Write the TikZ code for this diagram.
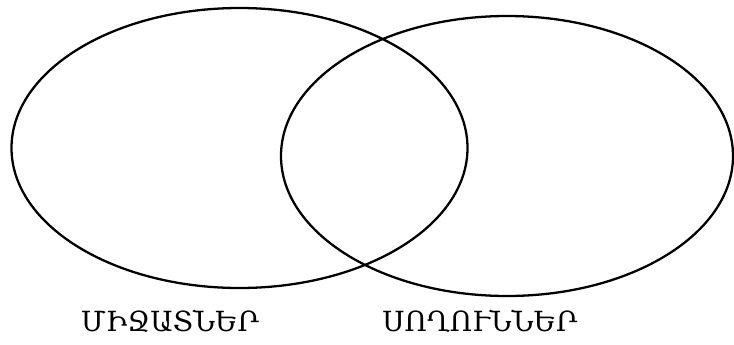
\documentclass[tikz,border=0pt]{standalone}
\usepackage{fontspec}
\newfontfamily\armfont{DejaVu Serif}
\usetikzlibrary{shapes.geometric, positioning}
\tikzset{
  setring/.style={draw=black, line width=1.3pt, ellipse, inner sep=0pt},
  setlabel/.style={font=\armfont\fontsize{15.8}{18}\selectfont, anchor=base}
}

\begin{document}
\begin{tikzpicture}[x=0.02cm, y=-0.02cm]
  \useasboundingbox (0,0) rectangle (734,345);

  % Sets
  \node[setring, minimum width=456*0.02cm, minimum height=280*0.02cm] (insects) at (239.5, 148) {};
  \node[setring, minimum width=452*0.02cm, minimum height=280*0.02cm] (reptiles) at (507, 156) {};

  % Labels
  \node[setlabel] (insectslabel) at (170, 331) {ՄԻՋԱՏՆԵՐ};
  \node[setlabel] (reptileslabel) at (480, 331) {ՍՈՂՈՒՆՆԵՐ};
\end{tikzpicture}
\end{document}
